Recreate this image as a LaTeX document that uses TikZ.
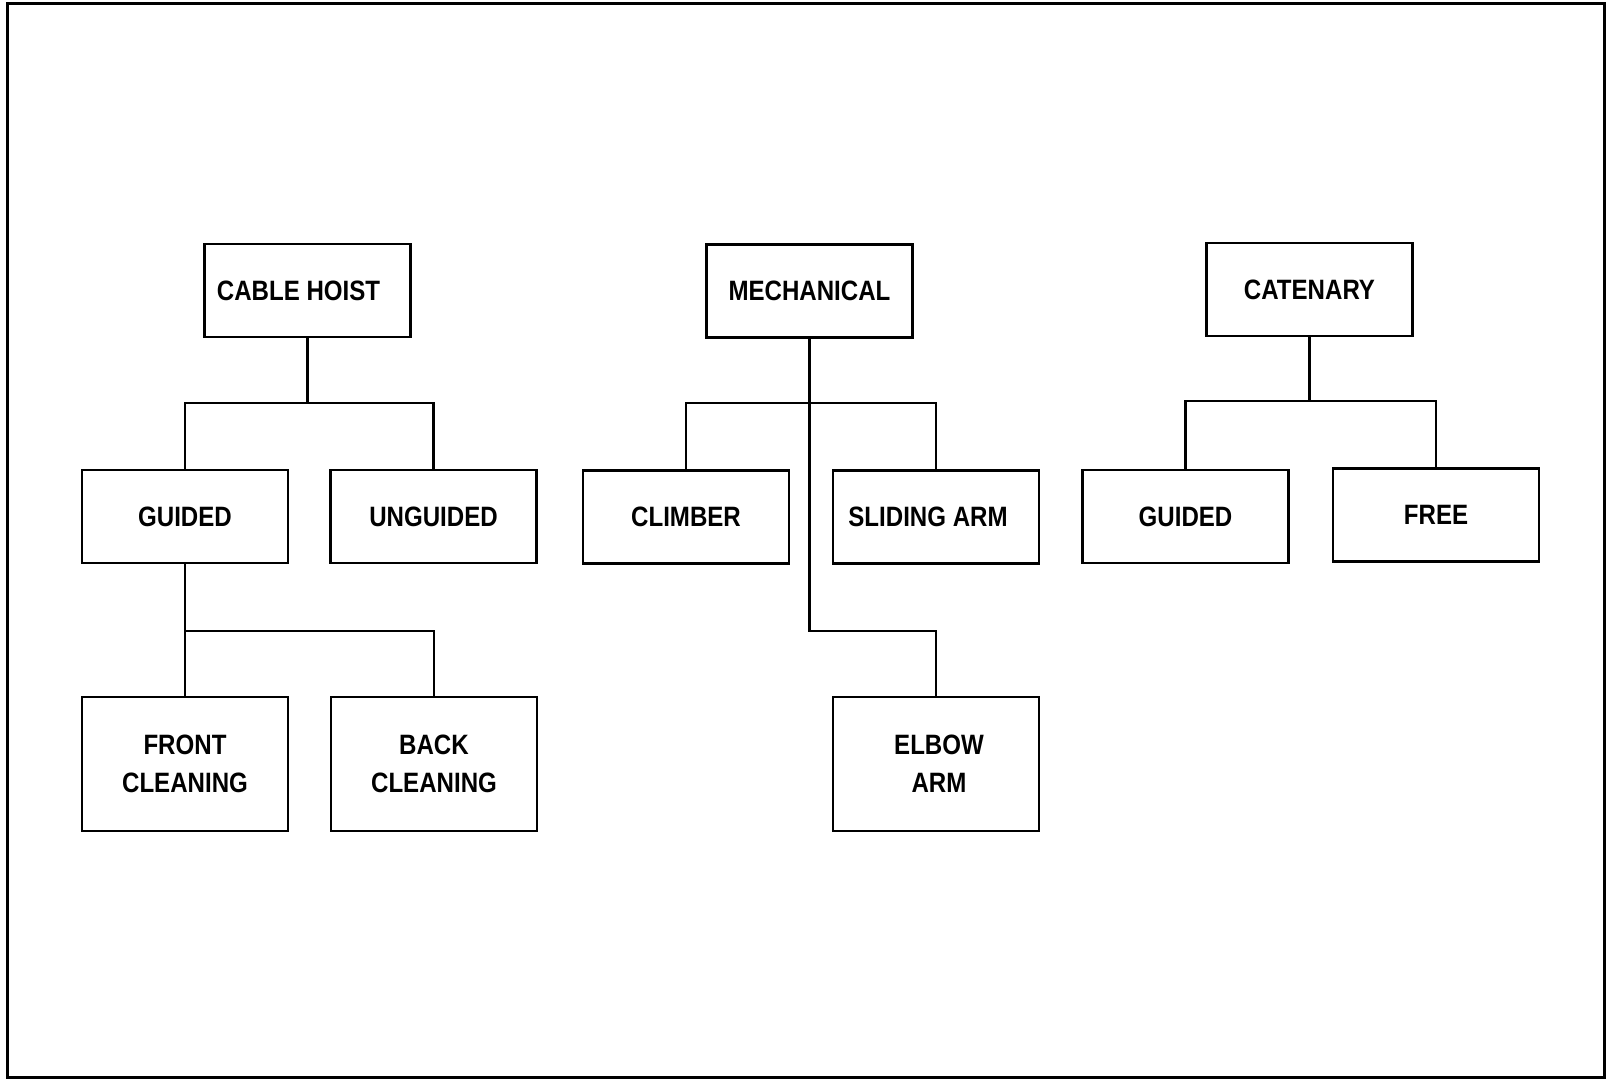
\documentclass[tikz,border=0pt]{standalone}
\usepackage{fontspec}
\setmainfont{Liberation Sans}[FakeStretch=0.86,BoldFeatures={FakeStretch=0.86}]
\begin{document}
\begin{tikzpicture}[x=0.5pt,y=-0.5pt,
  box/.style={draw,line width=1.1pt,inner sep=0pt,minimum width=103pt,minimum height=46.5pt,
    align=center,font=\fontsize{14}{18.8}\selectfont\bfseries},
  tallbox/.style={box,minimum height=67pt},
  link/.style={line width=1.1pt}]
\useasboundingbox (0,0) rectangle (1606,1079);
\draw[line width=1.5pt] (7,4) rectangle (1604,1077);
% top level
\node[box] (ch) at (307.5,290.5) {CABLE HOIST\hspace*{9pt}};
\node[box] (mech) at (809.5,291) {MECHANICAL};
\node[box] (cat) at (1309.5,289.5) {CATENARY};
% second level
\node[box] (g1) at (185,516.5) {GUIDED};
\node[box] (ug) at (433.5,516.5) {UNGUIDED};
\node[box] (cl) at (686,517) {CLIMBER};
\node[box] (sa) at (936,517) {SLIDING ARM\hspace*{8pt}};
\node[box] (g2) at (1185.5,516.5) {GUIDED};
\node[box] (fr) at (1436,515) {FREE};
% third level
\node[tallbox] (fc) at (185,764) {FRONT\\CLEANING};
\node[tallbox] (bc) at (434,764) {BACK\\CLEANING};
\node[tallbox] (ea) at (936,764) {\hspace*{3pt}ELBOW\\\hspace*{3pt}ARM};
% junctions
\coordinate (b1) at (307.5,403);
\coordinate (b2) at (809.5,403);
\coordinate (b3) at (1309.5,401);
\coordinate (b4) at (185,631);
\coordinate (b5) at (936,631);
% connectors
\draw[link] (ch.south) -- (b1);
\draw[link] (g1.north) |- (b1);
\draw[link] (ug.north) |- (b1);
\draw[link] (mech.south) -- (b2);
\draw[link] (cl.north) |- (b2);
\draw[link] (sa.north) |- (b2);
\draw[link] (mech.south) |- (b5) -- (ea.north);
\draw[link] (cat.south) -- (b3);
\draw[link] (g2.north) |- (b3);
\draw[link] (fr.north) |- (b3);
\draw[link] (g1.south) -- (b4);
\draw[link] (fc.north) |- (b4);
\draw[link] (bc.north) |- (b4);
\end{tikzpicture}
\end{document}
